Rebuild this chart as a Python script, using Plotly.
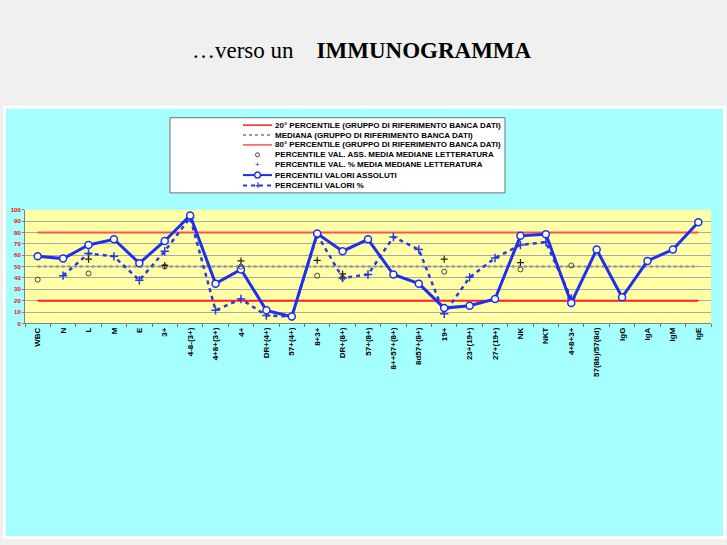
import plotly.graph_objects as go

W, H = 727, 545

categories = ["WBC", "N", "L", "M", "E", "3+", "4-8-(3+)", "4+8+(3+)", "4+",
              "DR+(4+)", "57+(4+)", "8+3+", "DR+(8+)", "57+(8+)", "8++57+(8+)",
              "8d57+(8+)", "19+", "23+(19+)", "27+(19+)", "NK", "NKT", "4+8+3+",
              "57(8b)/57(8d)", "IgG", "IgA", "IgM", "IgE"]

p20 = [20, 20, 20, 20, 20, 20, 20, 20, 20, 20, 20, 20, 20, 20, 20, 20, 20, 20,
       20, 20, 20, 20, 20, 20, 20, 20, 20]
median = [50, 50, 50, 50, 50, 50, 50, 50, 50, 50, 50, 50, 50, 50, 50, 50, 50, 50,
          50, 50, 50, 50, 50, 50, 50, 50, 50]
p80 = [80, 80, 80, 80, 80, 80, 80, 80, 80, 80, 80, 80, 80, 80, 80, 80, 80, 80,
       80, 80, 80, 80, 80, 80, 80, 80, 80]

lit_abs = [38.5, None, 44, None, None, 50, None, None, 50, None, None, 42, 40, None,
           None, None, 45.5, None, None, 47.5, None, 51, None, None, None, None, None]
lit_pct = [None, None, 56.5, None, None, 51, None, None, 55, None, None, 55.5, 43.5,
           None, None, None, 56.5, None, None, 53.5, None, None, None, None, None,
           None, None]

abs_vals = [59, 57, 69, 74, 53, 72.5, 95, 35, 47.5, 11.5, 6, 79, 63.5, 74, 43, 35,
            13.5, 15.5, 21.5, 77, 78.5, 18, 65, 23, 55, 65, 89]
pct_vals = [None, 42, 61.5, 59, 38, 63.5, 93, 11.5, 21.5, 7, 6, 78, 40, 43, 76, 65,
            8.5, 40.5, 57.5, 69, 71.5, 22, None, None, None, None, None]

legend_labels = [
    "20° PERCENTILE (GRUPPO DI RIFERIMENTO BANCA DATI)",
    "MEDIANA (GRUPPO DI RIFERIMENTO BANCA DATI)",
    "80° PERCENTILE (GRUPPO DI RIFERIMENTO BANCA DATI)",
    "PERCENTILE VAL. ASS. MEDIA MEDIANE LETTERATURA",
    "PERCENTILE VAL. % MEDIA MEDIANE LETTERATURA",
    "PERCENTILI VALORI ASSOLUTI",
    "PERCENTILI VALORI %",
]

RED = "#ff1f1f"
RED2 = "#ff5050"
GRAY = "#9a9a9a"
BLUE = "#1f2ff0"
BLUE2 = "#2a3ae0"

fig = go.Figure()
fig.add_trace(go.Scatter(x=categories, y=p20, mode="lines",
                         line=dict(color=RED, width=2), hoverinfo="skip"))
fig.add_trace(go.Scatter(x=categories, y=p80, mode="lines",
                         line=dict(color=RED2, width=2), hoverinfo="skip"))
fig.add_trace(go.Scatter(x=categories, y=median, mode="lines",
                         line=dict(color=GRAY, width=2.5, dash="dot"), hoverinfo="skip"))
fig.add_trace(go.Scatter(x=categories, y=pct_vals, mode="lines+markers",
                         line=dict(color=BLUE2, width=2.5, dash="4px,4px"),
                         marker=dict(symbol="cross-thin", size=6,
                                     line=dict(color=BLUE2, width=1.5)),
                         connectgaps=False))
fig.add_trace(go.Scatter(x=categories, y=abs_vals, mode="lines+markers",
                         line=dict(color=BLUE, width=3),
                         marker=dict(symbol="circle", size=7, color="white",
                                     line=dict(color=BLUE, width=1.5))))
fig.add_trace(go.Scatter(x=categories, y=lit_abs, mode="markers",
                         marker=dict(symbol="circle-open", size=5,
                                     color="#444", line=dict(width=1))))
fig.add_trace(go.Scatter(x=categories, y=lit_pct, mode="markers",
                         marker=dict(symbol="cross-thin", size=5,
                                     line=dict(color="#222", width=1.2))))


def px(x):
    return x / W


def py(y):
    return 1 - y / H


PL, PR, PT, PB = 25, 711, 209, 324

shapes = [
    dict(type="rect", xref="paper", yref="paper", x0=px(3), x1=px(726),
         y0=py(542), y1=py(104), fillcolor="white", line=dict(width=0), layer="below"),
    dict(type="rect", xref="paper", yref="paper", x0=px(6), x1=px(723),
         y0=py(539), y1=py(107), fillcolor="#a6ffff", line=dict(width=0), layer="below"),
    dict(type="rect", xref="paper", yref="paper", x0=px(PL), x1=px(PR),
         y0=py(PB), y1=py(PT), fillcolor="#ffffa6", line=dict(width=0), layer="below"),
    # legend box
    dict(type="rect", xref="paper", yref="paper", x0=px(170), x1=px(505),
         y0=py(192), y1=py(116), fillcolor="white",
         line=dict(color="#707070", width=1), layer="above"),
]

annotations = [
    dict(text="…verso un&nbsp;&nbsp;&nbsp;&nbsp;<b>IMMUNOGRAMMA</b>", xref="paper",
         yref="paper", x=px(362), y=py(48), showarrow=False, xanchor="center",
         yanchor="middle",
         font=dict(family="Liberation Serif, Times New Roman, serif", size=23,
                   color="black")),
]

row_y = [123.5, 133.5, 143.5, 153.5, 163.5, 174, 184.5]
sx0, sx1, smid = 243, 272, 257.5
for i, (lab, yy) in enumerate(zip(legend_labels, row_y)):
    annotations.append(dict(text=lab, xref="paper", yref="paper", x=px(273),
                            y=py(yy), showarrow=False, xanchor="left",
                            yanchor="middle",
                            font=dict(family="Liberation Sans, Arial, sans-serif",
                                      size=8, color="black", weight="bold")))


def hline(y, color, width, dash="solid"):
    return dict(type="line", xref="paper", yref="paper", x0=px(sx0), x1=px(sx1),
                y0=py(y), y1=py(y), line=dict(color=color, width=width, dash=dash))


def circ(y, r, fill, color, width=1):
    return dict(type="circle", xref="paper", yref="paper", x0=px(smid - r),
                x1=px(smid + r), y0=py(y + r), y1=py(y - r), fillcolor=fill,
                line=dict(color=color, width=width))


shapes += [
    hline(row_y[0], RED, 1.5),
    hline(row_y[1], GRAY, 2, "dot"),
    hline(row_y[2], RED2, 1.5),
    circ(row_y[3], 2, "white", "#444"),
    hline(row_y[5], BLUE, 2),
    circ(row_y[5], 3, "white", BLUE, 1.5),
    hline(row_y[6], BLUE2, 2, "4px,4px"),
]
annotations.append(dict(text="+", xref="paper", yref="paper", x=px(smid), y=py(row_y[4]),
                        showarrow=False, xanchor="center", yanchor="middle",
                        font=dict(size=8, color="#222", family="Liberation Sans")))
annotations.append(dict(text="<b>+</b>", xref="paper", yref="paper", x=px(smid),
                        y=py(row_y[6]), showarrow=False, xanchor="center",
                        yanchor="middle",
                        font=dict(size=10, color=BLUE2, family="Liberation Sans")))

fig.update_layout(
    width=W, height=H,
    margin=dict(l=0, r=0, t=0, b=0),
    paper_bgcolor="#f0f0f0",
    plot_bgcolor="#ffffa6",
    showlegend=False,
    shapes=shapes,
    annotations=annotations,
    xaxis=dict(domain=[px(PL), px(PR)], type="category",
               categoryorder="array", categoryarray=categories,
               tickson="boundaries", ticks="outside", ticklen=3,
               tickcolor="#707070", showline=True, linecolor="#808080",
               linewidth=1, showgrid=False, tickangle=-90,
               tickfont=dict(family="Liberation Sans, Arial, sans-serif", size=8,
                             color="black", weight="bold"),
               range=[-0.5, len(categories) - 0.5], fixedrange=True),
    yaxis=dict(domain=[py(PB), py(PT)], range=[0, 100],
               tickvals=[0, 10, 20, 30, 40, 50, 60, 70, 80, 90, 100],
               showgrid=True, gridcolor="#a8a8a8", gridwidth=1,
               showline=True, linecolor="#808080", linewidth=1,
               ticks="outside", ticklen=2, tickcolor="#808080",
               zeroline=False,
               tickfont=dict(family="Liberation Sans, Arial, sans-serif", size=6,
                             color="#ff0000", weight="bold"),
               fixedrange=True),
)

fig.write_html(
    "out.html",
    config={"displayModeBar": False},
    post_script="document.body.style.margin='0';document.body.style.padding='0';"
                "document.body.style.background='#f0f0f0';",
)
